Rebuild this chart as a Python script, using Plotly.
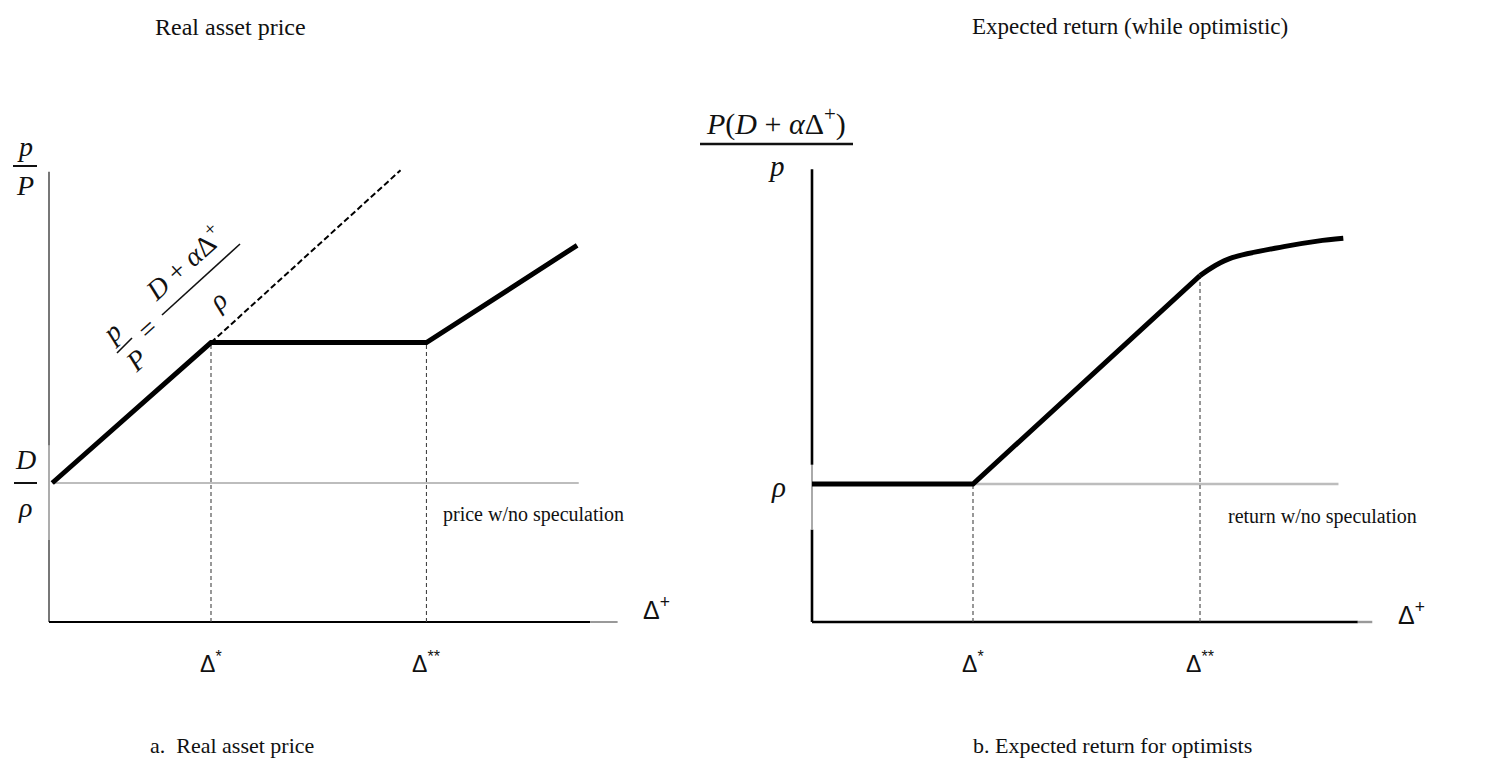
import plotly.graph_objects as go

W, H = 1491, 766
PAD = 8  # page body margin of the html page

# ---------------- data (diagram units: Δ* = 1, D/ρ = 1, ρ = 1) ----------------
# Panel a: real asset price
a_price_x = [0.02, 1.0, 2.33, 3.26]
a_price_y = [1.0, 2.01, 2.01, 2.71]
a_fund_x = [1.0, 2.17]          # dashed continuation p/P = (D+αΔ+)/ρ
a_fund_y = [2.01, 3.25]
a_base_x = [0.02, 3.27]         # price w/no speculation
a_base_y = [1.0, 1.0]
a_marks_x = [1.0, 2.33]         # Δ*, Δ**
a_marks_top = [2.01, 2.01]
a_yaxis_top = 3.24
a_ygray = [0.59, 1.27]
a_xaxis_end = 3.34
a_xgray_end = 3.51

# Panel b: expected return for optimists
b_lin_x = [0.0, 1.0, 2.41]
b_lin_y = [1.0, 1.0, 2.51]
b_curve_x = [2.41, 2.50, 2.61, 2.93, 3.14, 3.30]
b_curve_y = [2.51, 2.58, 2.64, 2.72, 2.76, 2.78]
b_base_x = [1.0, 3.27]          # return w/no speculation
b_base_y = [1.0, 1.0]
b_marks_x = [1.0, 2.41]
b_marks_top = [1.0, 2.51]
b_yaxis_top = 3.28
b_ygray = [0.67, 1.14]
b_xaxis_end = 3.39
b_xgray_end = 3.48

tick_labels = ["Δ<sup>*</sup>", "Δ<sup>**</sup>"]

# ---------------- figure ----------------
fig = go.Figure()

def line(x, y, color, width, dash="solid", xa="x", ya="y", shape="linear"):
    fig.add_trace(go.Scatter(x=x, y=y, mode="lines", xaxis=xa, yaxis=ya,
                             line=dict(color=color, width=width, dash=dash, shape=shape),
                             hoverinfo="skip", showlegend=False))

AXC = "#000000"
GRAY = "#bdbdbd"

# Panel a
line([0, 0], [0, a_ygray[0]], "#555555", 1.6)
line([0, 0], a_ygray, "#999999", 1.6)
line([0, 0], [a_ygray[1], a_yaxis_top], "#555555", 1.6)
line([0, a_xaxis_end], [0, 0], AXC, 2.2)
line([a_xaxis_end, a_xgray_end], [0, 0], "#999999", 2.2)
line(a_base_x, a_base_y, GRAY, 2.2)
for mx, mt in zip(a_marks_x, a_marks_top):
    line([mx, mx], [0, mt], "#444444", 1.1, dash="4px,3px")
line(a_fund_x, a_fund_y, "#000000", 2.0, dash="6px,3px")
line(a_price_x, a_price_y, "#000000", 5)

# Panel b
line([0, 0], [0, b_ygray[0]], AXC, 2.6, xa="x2", ya="y2")
line([0, 0], b_ygray, "#aaaaaa", 2.0, xa="x2", ya="y2")
line([0, 0], [b_ygray[1], b_yaxis_top], AXC, 2.6, xa="x2", ya="y2")
line([0, b_xaxis_end], [0, 0], AXC, 2.4, xa="x2", ya="y2")
line([b_xaxis_end, b_xgray_end], [0, 0], "#999999", 2.4, xa="x2", ya="y2")
line(b_base_x, b_base_y, GRAY, 2.4, xa="x2", ya="y2")
for mx, mt in zip(b_marks_x, b_marks_top):
    line([mx, mx], [0, mt], "#444444", 1.1, dash="4px,3px", xa="x2", ya="y2")
line(b_lin_x, b_lin_y, "#000000", 5, xa="x2", ya="y2")
line(b_curve_x, b_curve_y, "#000000", 5, xa="x2", ya="y2", shape="spline")


def xrange_for(d0, d1, origin, scale):
    """axis range so that data 0 sits at page pixel `origin` with `scale` px per unit"""
    return [(d0 * W + PAD - origin) / scale, (d1 * W + PAD - origin) / scale]


def yrange_for(origin, scale):
    return [-(H + PAD - origin) / scale, (origin - PAD) / scale]


hidden = dict(visible=False, showgrid=False, zeroline=False, fixedrange=True)
fig.update_layout(
    width=W, height=H,
    margin=dict(l=0, r=0, t=0, b=0),
    paper_bgcolor="white", plot_bgcolor="white",
    showlegend=False,
    xaxis=dict(domain=[0, 0.5], range=xrange_for(0, 0.5, 49, 162), **hidden),
    yaxis=dict(domain=[0, 1], range=yrange_for(622, 139), **hidden),
    xaxis2=dict(domain=[0.5, 1], range=xrange_for(0.5, 1, 812, 161), anchor="y2", **hidden),
    yaxis2=dict(domain=[0, 1], range=yrange_for(622, 138), anchor="x2", **hidden),
)

SERIF = "Liberation Serif"
MATH = "Liberation Serif"
SANS = "Liberation Sans"


def px(x):
    return (x - PAD) / W


def py(y):
    return 1 - (y - PAD) / H


def text(t, x, y, size, family=SERIF, angle=0, xanchor="center", color="#111111"):
    fig.add_annotation(text=t, x=px(x), y=py(y), xref="paper", yref="paper",
                       showarrow=False, xanchor=xanchor, yanchor="middle",
                       textangle=angle, font=dict(family=family, size=size, color=color))


def bar(x0, y0, x1, y1, w=2):
    fig.add_shape(type="line", xref="paper", yref="paper",
                  x0=px(x0), y0=py(y0), x1=px(x1), y1=py(y1),
                  line=dict(color="#111111", width=w))


# titles and captions
text("Real asset price", 230, 27, 24)
text("Expected return (while optimistic)", 1130, 27, 23)
text("a.  Real asset price", 232, 745, 22)
text("b. Expected return for optimists", 1112, 745, 22)

# Δ tick labels (data coords)
for ax, ay, xs in (("x", "y", a_marks_x), ("x2", "y2", b_marks_x)):
    for mx, lab in zip(xs, tick_labels):
        fig.add_annotation(text=lab, x=mx, y=-0.29, xref=ax, yref=ay, showarrow=False,
                           font=dict(family=SANS, size=23, color="#111111"))

text("Δ<sup>+</sup>", 656, 608, 25, family=SANS)
text("Δ<sup>+</sup>", 1411, 613, 25, family=SANS)

# curve labels
text("price w/no speculation", 441, 514, 20, xanchor="left")
text("return w/no speculation", 1226, 516, 20, xanchor="left")

# left axis labels: p/P and D/ρ
text("<i>p</i>", 25, 146, 28, family=MATH)
bar(13, 166, 37, 166)
text("<i>P</i>", 25, 186, 28, family=MATH)
text("<i>D</i>", 25, 459, 28, family=MATH)
bar(14, 483, 37, 483)
text("<i>ρ</i>", 25, 507, 28, family=MATH)

# right axis labels: P(D + αΔ+)/p and ρ
text("<i>P</i>(<i>D</i> + <i>α</i>Δ<sup>+</sup>)", 776, 122, 30, family=MATH)
bar(700, 144, 853, 144, w=2.5)
text("<i>p</i>", 776, 166, 29, family=MATH)
text("<i>ρ</i>", 779, 487, 29, family=MATH)

# rotated label along the dashed line: p/P = (D + αΔ+)/ρ
ANG = -42
text("<i>p</i>", 111, 332, 28, family=MATH, angle=ANG)
bar(117, 353, 132, 338, w=1.6)
text("<i>P</i>", 136, 360, 28, family=MATH, angle=ANG)
text("=", 148, 329, 28, family=MATH, angle=ANG)
text("<i>D</i> + <i>α</i>Δ<sup>+</sup>", 183, 262, 28, family=MATH, angle=ANG)
bar(162, 315, 240, 244, w=1.6)
text("<i>ρ</i>", 217, 300, 28, family=MATH, angle=ANG)

fig.write_html("out.html")
